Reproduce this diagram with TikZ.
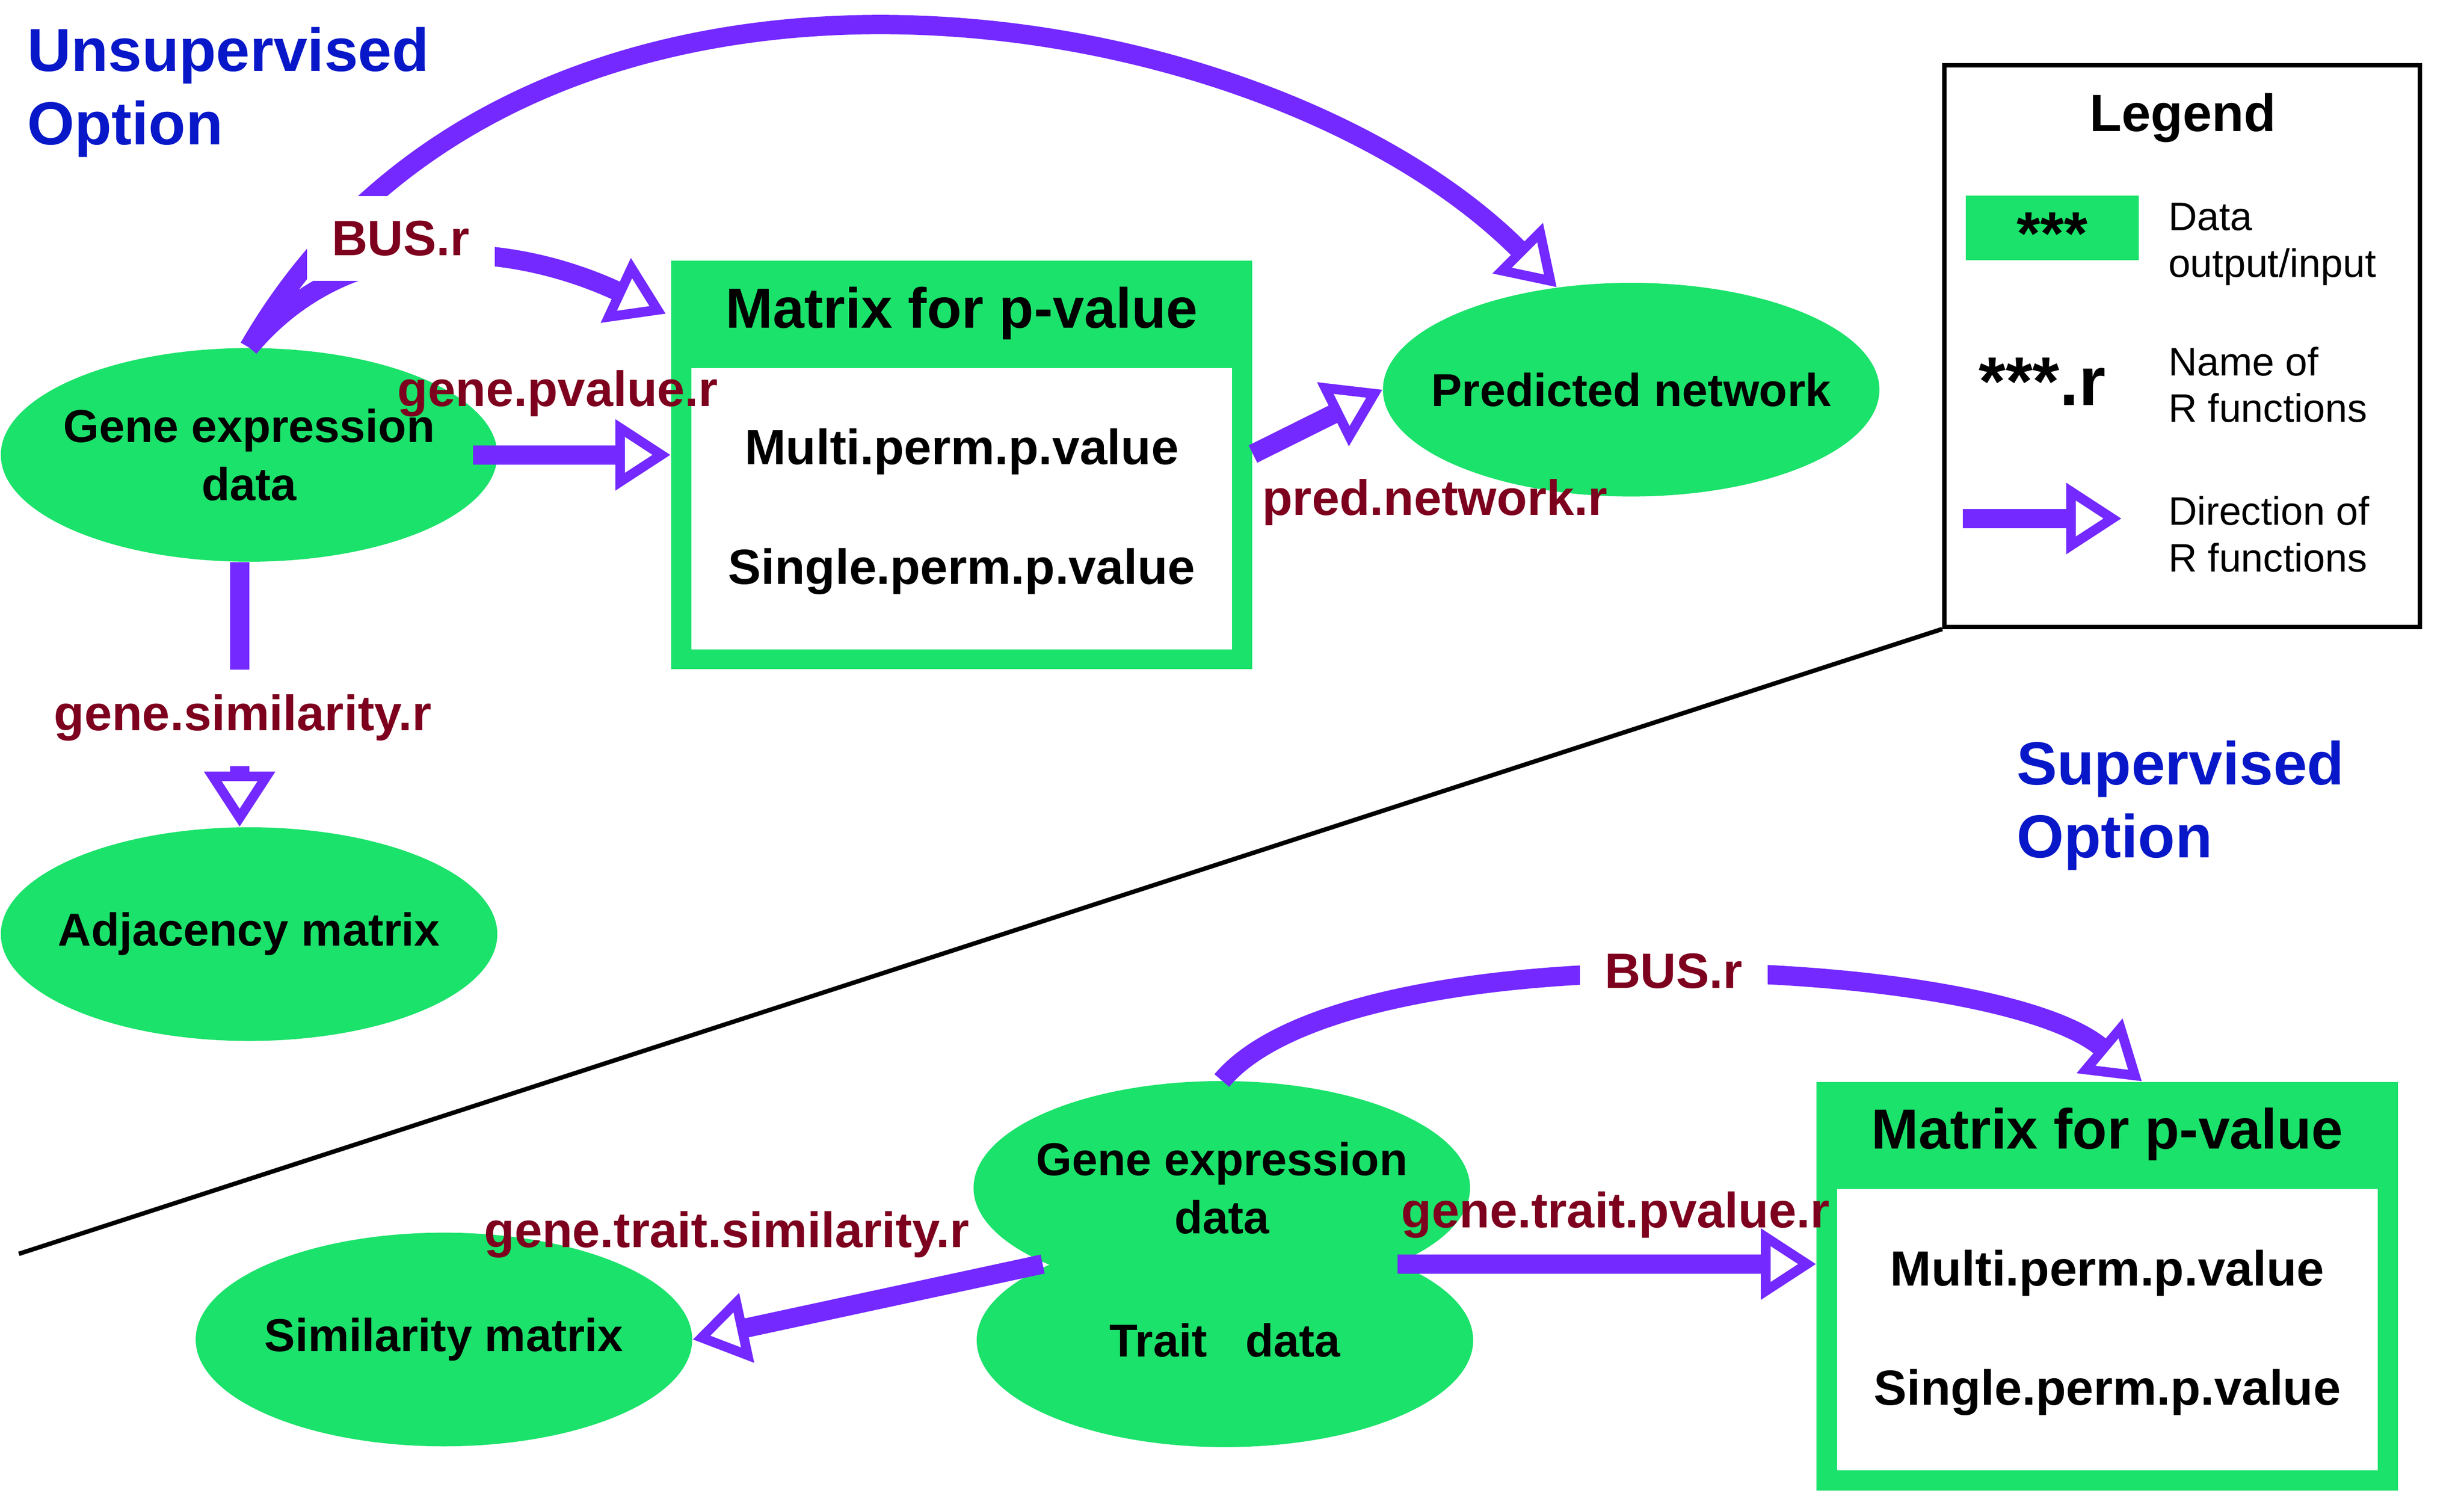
\documentclass[tikz,border=0pt]{standalone}
\usepackage{fontspec}
\setmainfont{Liberation Sans}
\usetikzlibrary{arrows.meta, calc, shapes.geometric}

\definecolor{fngreen}{RGB}{27,226,106}
\definecolor{fnpurple}{RGB}{115,41,255}
\definecolor{fnred}{RGB}{125,0,30}
\definecolor{optblue}{RGB}{8,24,200}

\tikzset{
    data/.style={ellipse, fill=fngreen, minimum width=6.32cm, minimum height=2.72cm,
        inner sep=0pt, label={[datatext]center:#1}},
    datatext/.style={align=center, font=\fontsize{16.7}{21}\selectfont\bfseries},
    matbox/.style={rectangle, fill=fngreen, minimum width=7.4cm, minimum height=5.2cm, inner sep=0pt},
    matinner/.style={rectangle, fill=white, minimum width=6.88cm, minimum height=3.58cm, inner sep=0pt},
    mattitle/.style={anchor=base, font=\fontsize{20.5}{24}\selectfont\bfseries},
    matline/.style={anchor=base, font=\fontsize{17.9}{21}\selectfont\bfseries},
    fn/.style={draw=fnpurple, line width=7pt,
        -{Triangle[fill=white, line width=3.5pt, length=20pt, width=25pt]}},
    fnname/.style={anchor=base, text=fnred, font=\fontsize{18}{22}\selectfont\bfseries},
    fncut/.style={fnname, fill=white, inner sep=9pt},
    option/.style={anchor=north west, inner sep=0pt, text=optblue, align=left,
        font=\fontsize{22}{26.5}\selectfont\bfseries},
    legtext/.style={anchor=north west, inner sep=0pt, align=left,
        font=\fontsize{14.4}{16.9}\selectfont}
}

\begin{document}
\begin{tikzpicture}[x=0.02cm, y=0.02cm]

    \useasboundingbox (0,0) rectangle (1568,-950);

    % Option titles
    \node[option] (unsup) at (17,-17) {Unsupervised\\Option};
    \node[option] (sup) at (1283,-471) {Supervised\\Option};

    % Legend
    \node[draw, line width=1.6pt, minimum width=6.05cm, minimum height=7.15cm,
        inner sep=0pt] (legend) at (1388.6,-220.2) {};
    \node[anchor=base, font=\fontsize{19}{23}\selectfont\bfseries] (legtitle) at (1389,-83.6) {Legend};
    \node[fill=fngreen, minimum width=2.2cm, minimum height=0.82cm, inner sep=0pt] (legdata) at (1306,-145) {};
    \node[anchor=base, font=\fontsize{22}{26}\selectfont\bfseries] (legstars) at ($(legdata.south)+(0,4)$) {***};
    \node[anchor=base west, inner sep=0pt, font=\fontsize{25}{30}\selectfont\bfseries] (legname) at (1259,-258) {***.r};
    \coordinate (legfrom) at (1249,-330);
    \coordinate (legto) at (1350,-330);
    \draw[fn] (legfrom) -- (legto);
    \node[legtext] (legdatatxt) at (1379.5,-129) {Data\\output/input};
    \node[legtext] (legnametxt) at (1379.5,-220.3) {Name of\\R functions};
    \node[legtext] (legdirtxt) at (1379.5,-315.5) {Direction of\\R functions};

    % Line between the two options
    \coordinate (cutend) at (12,-798);
    \draw[line width=1.6pt] (legend.south west) -- (cutend);

    % Matrix boxes
    \foreach \m/\cx/\cy in {mtop/612/-296, mbot/1341/-818.5} {
        \node[matbox] (\m) at (\cx,\cy) {};
        \node[matinner] (\m-in) at ($(\m.south)+(0,102.5)$) {};
        \node[mattitle] (\m-title) at ($(\m.north)+(0,-43)$) {Matrix for p-value};
        \node[matline] (\m-multi) at ($(\m.north)+(0,-130)$) {Multi.perm.p.value};
        \node[matline] (\m-single) at ($(\m.north)+(0,-206)$) {Single.perm.p.value};
    }

    % Data
    \node[data={Gene expression\\data}] (gtop) at (158.5,-289.5) {};
    \node[data={Adjacency matrix}] (adj) at (158.5,-594.5) {};
    \node[data={Predicted network}] (pred) at (1038,-248) {};
    \node[data={Trait~~~data}] (trait) at (779.5,-853) {};
    \node[data={Gene expression\\data}] (gbot) at (777.5,-756) {};
    \node[data={Similarity matrix}] (sim) at (282.5,-852.5) {};

    % R functions, unsupervised
    \draw[fn] (gtop.north) .. controls +(173,300) and +(-189,189) .. (pred.126);
    \draw[fn] (gtop.north) to[out=50, in=155] ($(mtop.north west)+(-3,-34)$);
    \draw[fn] ([xshift=-9pt]gtop.east) -- (gtop.east -| mtop.west);
    \draw[fn] ([yshift=4pt]mtop.east) -- (pred.west);
    \draw[fn] ($(gtop.south)+(-6,0)$) -- ($(adj.north)+(-6,0)$);

    % R functions, supervised
    \coordinate (gtjoin) at ($(gbot.center)!0.5!(trait.center)$);
    \draw[fn] (gbot.north) to[out=50, in=140, looseness=0.55] ($(mbot.north)+(22,0)$);
    \draw[fn] ($(gtjoin)+(111,0)$) -- (gtjoin -| mbot.west);
    \draw[fn] ($(gtjoin)+(-115,0)$) -- (sim.east);

    % Function names
    \node[fncut] (busup) at (255,-162.7) {BUS.r};
    \node[fnname] (pvlab) at (355,-258.5) {gene.pvalue.r};
    \node[fnname] (predlab) at (913,-327.8) {pred.network.r};
    \node[fncut] (simlab) at (154.5,-465) {gene.similarity.r};
    \node[fncut] (busdown) at (1065,-629) {BUS.r};
    \node[fnname] (tsimlab) at (462.5,-793.8) {gene.trait.similarity.r};
    \node[fnname] (tpvlab) at (1028,-781.4) {gene.trait.pvalue.r};

\end{tikzpicture}
\end{document}
